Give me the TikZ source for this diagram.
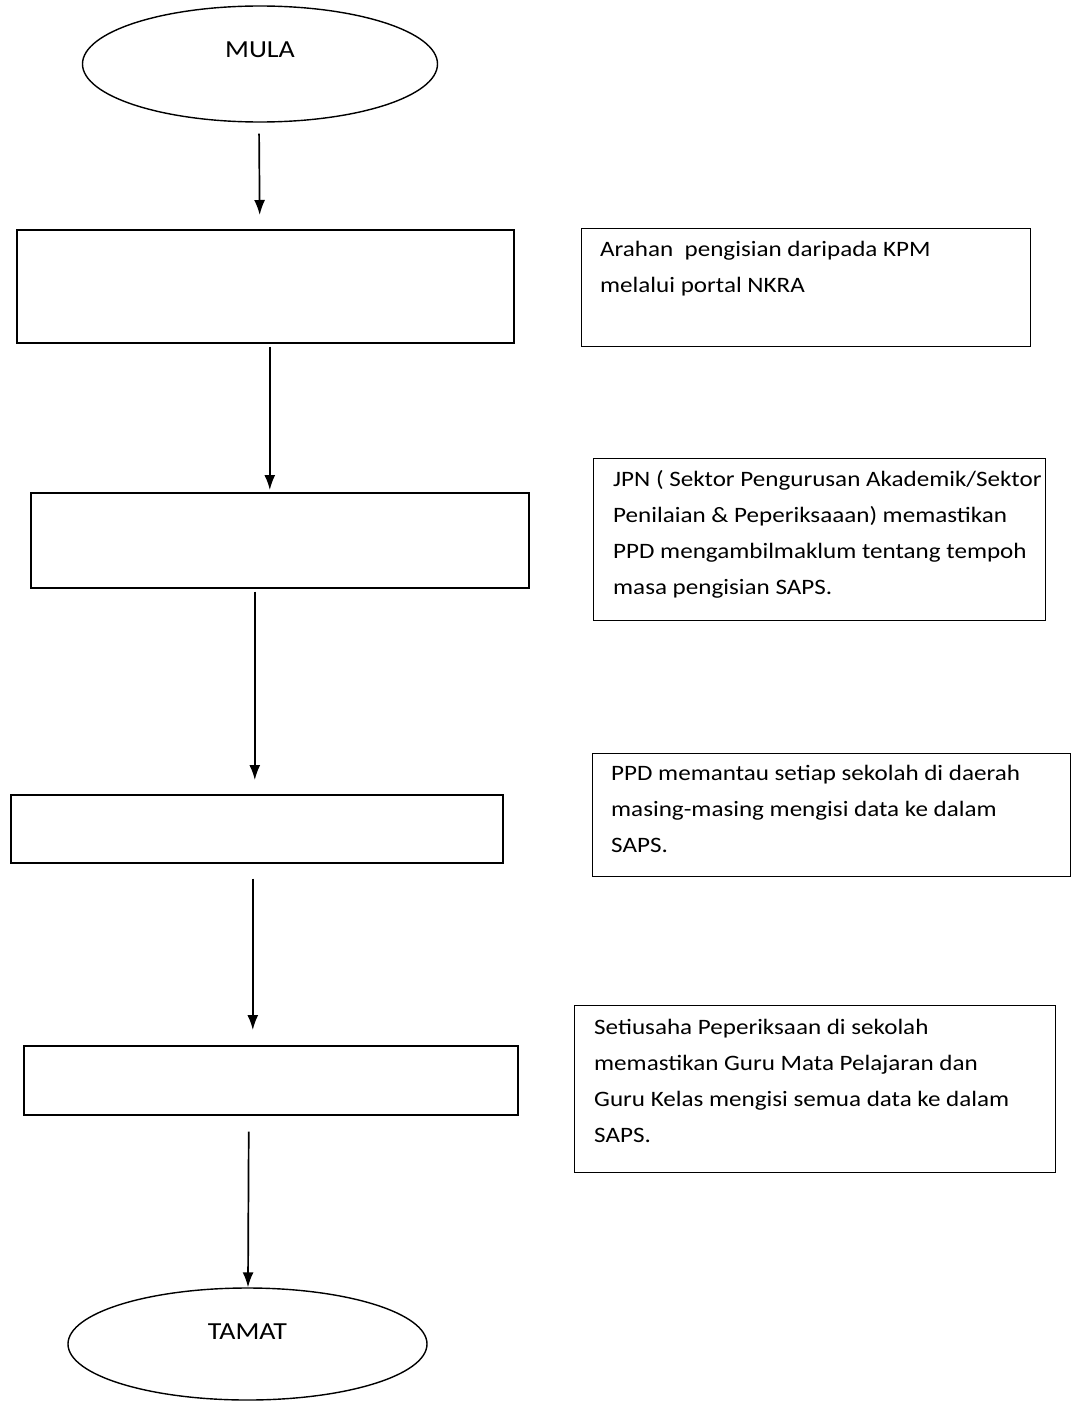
\documentclass[tikz,border=0pt]{standalone}
\usepackage{fontspec}
\setmainfont[FakeStretch=1.14]{Carlito}
\usetikzlibrary{arrows.meta,shapes.geometric}

\begin{document}
\begin{tikzpicture}[x=1pt, y=-1pt,
    terminal/.style={draw, line width=1.4pt, ellipse, inner sep=0pt},
    stepbox/.style={draw, line width=1.6pt, rectangle, anchor=north west, inner sep=0pt},
    notebox/.style={draw, line width=1.4pt, rectangle, anchor=north west, inner sep=0pt},
    notetext/.style={anchor=north west, inner sep=0pt, align=left, font=\fontsize{22}{36}\selectfont},
    flow/.style={line width=1.7pt, -{Latex[length=15pt,width=11pt]}}]
    \useasboundingbox (0,0) rectangle (1075,1402);

    % left column
    \node[terminal, minimum width=355pt, minimum height=116pt] (mula) at (260,64) {};
    \node[font=\fontsize{24.5}{28}\selectfont] (mulatxt) at ([yshift=14pt]mula.center) {MULA};
    \node[stepbox, minimum width=497pt, minimum height=113pt] (box1) at (16,229) {};
    \node[stepbox, minimum width=498pt, minimum height=95pt] (box2) at (30,492) {};
    \node[stepbox, minimum width=492pt, minimum height=68pt] (box3) at (10,794) {};
    \node[stepbox, minimum width=494pt, minimum height=69pt] (box4) at (23,1045) {};
    \node[terminal, minimum width=359pt, minimum height=112pt] (tamat) at (247.5,1344) {};
    \node[font=\fontsize{24.5}{28}\selectfont] (tamattxt) at ([yshift=12pt]tamat.center) {TAMAT};

    % right column
    \node[notebox, minimum width=449pt, minimum height=118pt] (note1) at (581,228) {};
    \node[notetext] (txt1) at ([xshift=19pt, yshift=-13.5pt]note1.north west)
        {Arahan\ \ pengisian daripada KPM\\ melalui portal NKRA};
    \node[notebox, minimum width=452pt, minimum height=162pt] (note2) at (593,458) {};
    \node[notetext] (txt2) at ([xshift=20pt, yshift=-12.5pt]note2.north west)
        {JPN ( Sektor Pengurusan Akademik/Sektor\\ Penilaian \& Peperiksaaan) memastikan\\ PPD mengambilmaklum tentang tempoh\\ masa pengisian SAPS.};
    \node[notebox, minimum width=478pt, minimum height=123pt] (note3) at (592,753) {};
    \node[notetext] (txt3) at ([xshift=19pt, yshift=-12.5pt]note3.north west)
        {PPD memantau setiap sekolah di daerah\\ masing-masing mengisi data ke dalam\\ SAPS.};
    \node[notebox, minimum width=481pt, minimum height=167pt] (note4) at (574,1005) {};
    \node[notetext] (txt4) at ([xshift=20pt, yshift=-14.5pt]note4.north west)
        {Setiusaha Peperiksaan di sekolah\\ memastikan Guru Mata Pelajaran dan\\ Guru Kelas mengisi semua data ke dalam\\ SAPS.};

    % arrows
    \draw[flow, shorten <=11pt, shorten >=14pt] ([xshift=-1pt]mula.south) -- ([xshift=-5.5pt]box1.north);
    \draw[flow, shorten <=3pt, shorten >=2pt] ([xshift=4.5pt]box1.south) -- ([xshift=-10pt]box2.north);
    \draw[flow, shorten <=3pt, shorten >=14pt] ([xshift=-25pt]box2.south) -- ([xshift=-2pt]box3.north);
    \draw[flow, shorten <=15pt, shorten >=15pt] ([xshift=-4pt]box3.south) -- ([xshift=-18pt]box4.north);
    \draw[flow, shorten <=16pt] ([xshift=-22pt]box4.south) -- ([xshift=0.5pt]tamat.north);
\end{tikzpicture}
\end{document}
